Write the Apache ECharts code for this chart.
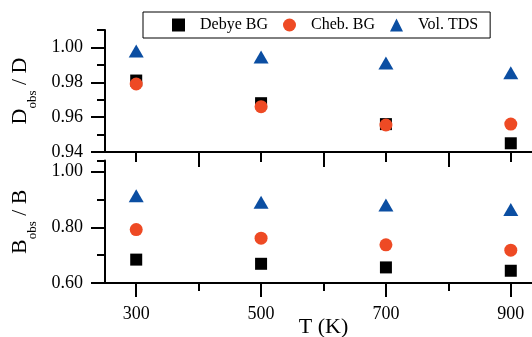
<!DOCTYPE html>
<html>
<head>
<meta charset="utf-8">
<script src="https://cdn.jsdelivr.net/npm/echarts@6/dist/echarts.min.js"></script>
<style>
  html, body { margin: 0; padding: 0; background: #fff; }
  #chart { width: 532px; height: 337px; }
</style>
</head>
<body>
<div id="chart"></div>
<script>
// temperatures (K)
const temps = [300, 500, 700, 900];
// D_obs / D
const dDebye = [0.981, 0.968, 0.956, 0.945];
const dCheb = [0.979, 0.966, 0.9555, 0.956];
const dVol = [0.998, 0.9945, 0.991, 0.9855];
// B_obs / B
const bDebye = [0.684, 0.669, 0.656, 0.644];
const bCheb = [0.792, 0.761, 0.737, 0.718];
const bVol = [0.913, 0.890, 0.880, 0.864];
// ticks
const xMajor = [300, 500, 700, 900];
const xMinor = [400, 600, 800];
const dMajor = [0.94, 0.96, 0.98, 1.00];
const dMinor = [0.95, 0.97, 0.99, 1.01];
const bMajor = [0.60, 0.80, 1.00];
const bMinor = [0.70, 0.90, 1.04];

const FONT = 'Liberation Serif';
const names = ['Debye BG', 'Cheb. BG', 'Vol. TDS'];
const colors = ['#000000', '#ee4a24', '#0b4ea2'];
const symbols = ['rect', 'circle', 'triangle'];
const sizes = [12, 13, [15, 13]];

const line = { show: true, onZero: false, lineStyle: { color: '#000', width: 2 } };
const off = { show: false };

function xAxis(grid, ticks, len, labels, extra) {
  return Object.assign({
    type: 'value', gridIndex: grid, position: 'bottom',
    min: 250, max: 950,
    axisLine: line,
    axisTick: { show: true, inside: false, length: len, customValues: ticks,
      lineStyle: { color: '#000', width: 2 } },
    axisLabel: labels ? { show: true, customValues: labels, margin: 22,
      fontFamily: FONT, fontSize: 18, color: '#000' } : off,
    splitLine: off
  }, extra || {});
}

function yAxis(grid, min, max, ticks, len, labels, extra) {
  return Object.assign({
    type: 'value', gridIndex: grid, position: 'left',
    min: min, max: max,
    axisLine: line,
    axisTick: { show: true, inside: false, length: len, customValues: ticks,
      lineStyle: { color: '#000', width: 2 } },
    axisLabel: labels ? { show: true, customValues: labels, margin: 22,
      formatter: v => v.toFixed(2),
      fontFamily: FONT, fontSize: 18, color: '#000' } : off,
    splitLine: off
  }, extra || {});
}

function yName(letter) {
  return {
    name: '{m|' + letter + '}{s|obs}{m| / ' + letter + '}',
    nameLocation: 'middle', nameGap: 66, nameRotate: 90,
    nameTextStyle: {
      rich: {
        m: { fontFamily: FONT, fontSize: 22, color: '#000', verticalAlign: 'bottom', padding: [0, 0, 8, 0] },
        s: { fontFamily: FONT, fontSize: 13, color: '#000', verticalAlign: 'bottom' }
      }
    }
  };
}

const panels = [[dDebye, dCheb, dVol], [bDebye, bCheb, bVol]];
const series = [];
panels.forEach((sets, p) => {
  sets.forEach((vals, i) => {
    series.push({
      name: names[i], type: 'scatter',
      xAxisIndex: p, yAxisIndex: p,
      symbol: symbols[i], symbolSize: sizes[i],
      itemStyle: { color: colors[i], opacity: 1 },
      data: temps.map((t, k) => [t, vals[k]])
    });
  });
});

const chart = echarts.init(document.getElementById('chart'));
chart.setOption({
  animation: false,
  backgroundColor: '#fff',
  legend: {
    left: 143, top: 12,
    data: names.map((n, i) => ({ name: n, icon: symbols[i] })),
    itemWidth: 13, itemHeight: 13, itemGap: 15,
    symbolKeepAspect: true,
    padding: [5, 12, 5, 29],
    borderColor: '#000', borderWidth: 1,
    textStyle: { fontFamily: FONT, fontSize: 16, color: '#000', padding: [0, 0, 0, 10] }
  },
  grid: [
    { left: 105, right: -10, top: 30, height: 122, outerBoundsMode: 'none', containLabel: false },
    { left: 105, right: -10, top: 160.5, height: 122.5, outerBoundsMode: 'none', containLabel: false }
  ],
  xAxis: [
    xAxis(0, xMajor, 10, null),
    xAxis(1, xMajor, 14, xMajor, {
      name: 'T (K)', nameLocation: 'middle', nameGap: 33, nameMoveOverlap: false,
      nameTextStyle: { fontFamily: FONT, fontSize: 22, color: '#000' }
    }),
    xAxis(0, xMinor, 15, null, { axisLine: off }),
    xAxis(1, xMinor, 8, null, { axisLine: off })
  ],
  yAxis: [
    yAxis(0, 0.94, 1.01, dMajor, 14, dMajor, yName('D')),
    yAxis(1, 0.60, 1.04, bMajor, 14, bMajor, yName('B')),
    yAxis(0, 0.94, 1.01, dMinor, 8, null, { axisLine: off }),
    yAxis(1, 0.60, 1.04, bMinor, 8, null, { axisLine: off })
  ],
  series: series
});
</script>
</body>
</html>
